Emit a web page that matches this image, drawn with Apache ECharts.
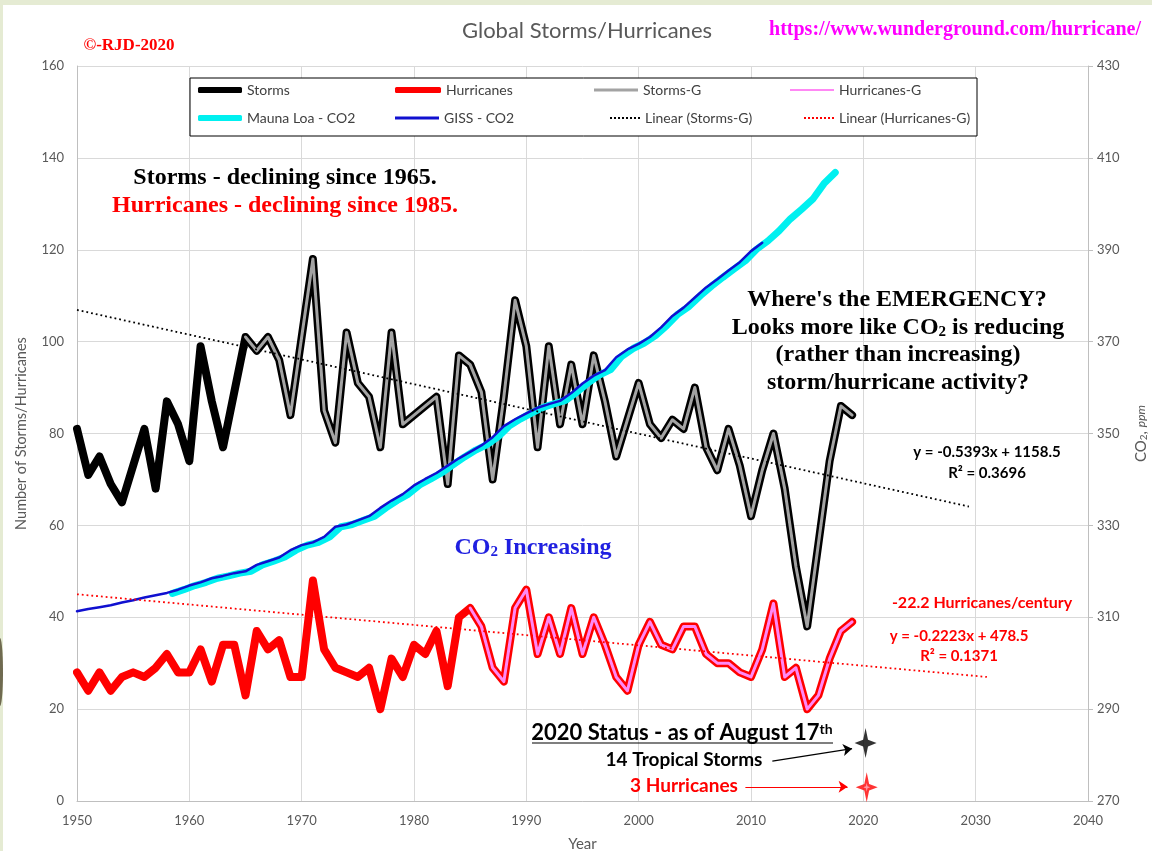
<!DOCTYPE html>
<html lang="en">
<head>
<meta charset="UTF-8">
<title>Global Storms/Hurricanes</title>
<script src="https://cdn.jsdelivr.net/npm/echarts@6/dist/echarts.min.js"></script>
<style>
  html, body { margin: 0; padding: 0; background: #fff; }
  #main { width: 1152px; height: 851px; }
</style>
</head>
<body>
<div id="main"></div>
<script>
// yearly counts, 1950 - 2019
var firstYear = 1950;
var storms = [81, 71, 75, 69, 65, 73, 81, 68, 87, 82,
              74, 99, 87, 77, 89, 101, 98, 101, 96, 84,
              101, 118, 85, 78, 102, 91, 88, 77, 102, 82,
              84, 86, 88, 69, 97, 95, 89, 70, 88, 109,
              99, 77, 99, 82, 95, 82, 97, 87, 75, 83,
              91, 82, 79, 83, 81, 90, 77, 72, 81, 73,
              62, 72, 80, 68, 51, 38, 56, 74, 86, 84];
var hurricanes = [28, 24, 28, 24, 27, 28, 27, 29, 32, 28,
                  28, 33, 26, 34, 34, 23, 37, 33, 35, 27,
                  27, 48, 33, 29, 28, 27, 29, 20, 31, 27,
                  34, 32, 37, 25, 40, 42, 38, 29, 26, 42,
                  46, 32, 40, 32, 42, 32, 40, 34, 27, 24,
                  34, 39, 34, 33, 38, 38, 32, 30, 30, 28,
                  27, 33, 43, 27, 29, 20, 23, 31, 37, 39];
var stormsGStart = 1965;
var hurricanesGStart = 1985;

// CO2, ppm
var gissStart = 1950;
var gissCO2 = [311.3, 311.8, 312.2, 312.6, 313.2, 313.7, 314.3, 314.8, 315.3, 316.0,
               316.9, 317.6, 318.5, 319.0, 319.6, 320.0, 321.4, 322.2, 323.0, 324.6,
               325.7, 326.3, 327.5, 329.7, 330.2, 331.1, 332.0, 333.8, 335.4, 336.8,
               338.7, 340.1, 341.4, 343.0, 344.6, 346.0, 347.4, 349.2, 351.6, 353.1,
               354.4, 355.6, 356.4, 357.1, 358.8, 360.9, 362.6, 363.8, 366.6, 368.3,
               369.5, 371.0, 373.1, 375.6, 377.4, 379.6, 381.8, 383.6, 385.5, 387.3,
               389.7, 391.5];
var mloStart = 1958.5;
var mloCO2 = [315.2, 316.0, 316.9, 317.6, 318.5, 319.0, 319.6, 320.0, 321.4, 322.2,
              323.1, 324.6, 325.7, 326.3, 327.5, 329.7, 330.2, 331.1, 332.0, 333.8,
              335.4, 336.8, 338.8, 340.1, 341.5, 343.2, 344.9, 346.4, 347.6, 349.3,
              351.7, 353.2, 354.5, 355.7, 356.5, 357.2, 359.0, 361.0, 362.7, 363.9,
              366.8, 368.5, 369.7, 371.3, 373.5, 376.0, 377.7, 380.0, 382.1, 384.0,
              385.8, 387.6, 390.1, 391.9, 394.1, 396.7, 398.8, 401.0, 404.4, 406.8];

// trend lines (end points)
var stormsTrend = [[1950, 106.9], [2029.4, 64.1]];
var hurricanesTrend = [[1950, 45.0], [2031, 27.0]];

// 2020 status markers and arrows
var status2020Storms = [[2020.2, 12.6]];
var status2020Hurricanes = [[2020.3, 3.0]];
var stormArrow = [[2011.9, 8.7], [2019.0, 11.4]];
var hurricaneArrow = [[2009.5, 3.1], [2018.6, 3.1]];

function pairs(start, values) {
    return values.map(function (v, i) { return [start + i, v]; });
}

var sans = 'Lato';
var serif = '"Liberation Serif"';
var grey = '#595959';
var star = 'path://M10,0 L12.2,7.8 L20,10 L12.2,12.2 L10,20 L7.8,12.2 L0,10 L7.8,7.8 Z';
var dots = 'path://M0,0h1v1h-1z M2,0h1v1h-1z M4,0h1v1h-1z M6,0h1v1h-1z M8,0h1v1h-1z M10,0h1v1h-1z M12,0h1v1h-1z M14,0h1v1h-1z';

function lineSeries(name, data, color, width, extra) {
    var s = {
        name: name,
        type: 'line',
        data: data,
        symbol: 'none',
        color: color,
        itemStyle: {color: color},
        lineStyle: {color: color, width: width, join: 'round', cap: 'round'},
        emphasis: {disabled: true},
        silent: true
    };
    for (var k in extra) s[k] = extra[k];
    return s;
}

function trendSeries(name, data, color) {
    var s = lineSeries(name, data, color, 1.8);
    s.lineStyle.type = [1.8, 3];
    s.lineStyle.cap = 'butt';
    return s;
}

function legendItem(name, left, top, w, h, icon) {
    return {
        data: [name],
        left: left,
        top: top,
        padding: 0,
        itemWidth: w,
        itemHeight: h,
        itemGap: 0,
        icon: icon,
        selectedMode: false,
        z: 6,
        textStyle: {color: '#404040', fontSize: 14, fontFamily: sans}
    };
}

function label(x, y, text, font, fill, extra) {
    var st = {text: text, font: font, fill: fill, align: 'center', verticalAlign: 'middle'};
    for (var k in extra) st[k] = extra[k];
    return {type: 'text', x: x, y: y, z: 10, style: st};
}

var myChart = echarts.init(document.getElementById('main'));

myChart.setOption({
    animation: false,
    backgroundColor: '#fff',
    grid: {left: 77, right: 64, top: 66, bottom: 50, outerBoundsMode: 'none', containLabel: false},
    legend: [
        legendItem('Storms', 198, 83, 44, 6, 'roundRect'),
        legendItem('Hurricanes', 395, 83, 46, 6, 'roundRect'),
        legendItem('Storms-G', 594, 83, 44, 3, 'rect'),
        legendItem('Hurricanes-G', 790, 83, 44, 2, 'rect'),
        legendItem('Mauna Loa - CO2', 198, 111, 44, 6, 'roundRect'),
        legendItem('GISS - CO2', 395, 111, 44, 3, 'rect'),
        legendItem('Linear (Storms-G)', 610, 111, 30, 2, dots),
        legendItem('Linear (Hurricanes-G)', 804, 111, 30, 2, dots)
    ],
    xAxis: {
        type: 'value',
        min: 1950,
        max: 2040,
        interval: 10,
        name: 'Year',
        nameLocation: 'middle',
        nameGap: 36,
        nameTextStyle: {color: grey, fontSize: 15, fontFamily: sans},
        axisLine: {show: true, lineStyle: {color: '#bfbfbf'}},
        axisTick: {show: false},
        splitLine: {show: true, lineStyle: {color: '#d9d9d9'}},
        axisLabel: {color: grey, fontSize: 13, fontFamily: sans, margin: 13,
            formatter: function (v) { return String(v); }}
    },
    yAxis: [{
        type: 'value',
        min: 0,
        max: 160,
        interval: 20,
        name: 'Number of Storms/Hurricanes',
        nameLocation: 'middle',
        nameRotate: 90,
        nameGap: 48,
        nameTextStyle: {color: grey, fontSize: 14.5, fontFamily: sans},
        axisLine: {show: true, lineStyle: {color: '#bfbfbf'}},
        axisTick: {show: false},
        splitLine: {show: true, lineStyle: {color: '#d9d9d9'}},
        axisLabel: {color: grey, fontSize: 13, fontFamily: sans, margin: 13}
    }, {
        type: 'value',
        position: 'right',
        min: 270,
        max: 430,
        interval: 20,
        name: '{a|CO}{s|2}{a|, }{i|ppm}',
        nameLocation: 'middle',
        nameRotate: 90,
        nameGap: 46,
        nameTextStyle: {
            color: grey,
            rich: {
                a: {color: grey, fontSize: 15, fontFamily: sans},
                s: {color: grey, fontSize: 10, fontFamily: sans, verticalAlign: 'bottom'},
                i: {color: grey, fontSize: 12, fontFamily: sans, fontStyle: 'italic'}
            }
        },
        axisLine: {show: true, lineStyle: {color: '#bfbfbf'}},
        axisTick: {show: true, length: 5, lineStyle: {color: '#bfbfbf'}},
        splitLine: {show: false},
        axisLabel: {color: grey, fontSize: 13, fontFamily: sans, margin: 9}
    }],
    series: [
        lineSeries('Storms', pairs(firstYear, storms), '#000000', 8),
        lineSeries('Hurricanes', pairs(firstYear, hurricanes), '#ff0000', 8),
        lineSeries('Storms-G', pairs(stormsGStart, storms.slice(stormsGStart - firstYear)), '#a3a3a3', 3),
        lineSeries('Hurricanes-G', pairs(hurricanesGStart, hurricanes.slice(hurricanesGStart - firstYear)), '#ff88f4', 3),
        lineSeries('Mauna Loa - CO2', pairs(mloStart, mloCO2), '#00f0f0', 7, {yAxisIndex: 1}),
        lineSeries('GISS - CO2', pairs(gissStart, gissCO2), '#1010d0', 2.5, {yAxisIndex: 1}),
        trendSeries('Linear (Storms-G)', stormsTrend, '#000000'),
        trendSeries('Linear (Hurricanes-G)', hurricanesTrend, '#ff0000'),
        {
            name: 'status-storms',
            type: 'scatter',
            data: status2020Storms,
            symbol: star,
            symbolSize: [22, 30],
            itemStyle: {color: '#000'},
            silent: true,
            z: 5,
            markLine: {
                silent: true,
                symbol: ['none', 'arrow'],
                symbolSize: 9,
                label: {show: false},
                lineStyle: {color: '#000', width: 1.2, type: 'solid'},
                data: [[{coord: stormArrow[0]}, {coord: stormArrow[1]}]]
            }
        },
        {
            name: 'status-hurricanes',
            type: 'scatter',
            data: status2020Hurricanes,
            symbol: star,
            symbolSize: [22, 30],
            itemStyle: {color: '#ff0000'},
            silent: true,
            z: 5,
            markLine: {
                silent: true,
                symbol: ['none', 'arrow'],
                symbolSize: 9,
                label: {show: false},
                lineStyle: {color: '#ff0000', width: 1.2, type: 'solid'},
                data: [[{coord: hurricaneArrow[0]}, {coord: hurricaneArrow[1]}]]
            }
        },
        {
            name: 'status-hurricanes-core',
            type: 'scatter',
            data: status2020Hurricanes,
            symbol: star,
            symbolSize: [7, 9],
            itemStyle: {color: '#ffb0c0'},
            silent: true,
            z: 6
        }
    ],
    graphic: {
        elements: [
            // slide frame
            {type: 'rect', shape: {x: 0, y: 0, width: 1152, height: 5}, style: {fill: '#e5ebd3'}, z: 0, silent: true},
            {type: 'rect', shape: {x: 0, y: 0, width: 3, height: 851}, style: {fill: '#e5ebd3'}, z: 0, silent: true},
            {type: 'ellipse', shape: {cx: 0, cy: 672, rx: 3, ry: 34}, style: {fill: '#6f6a50'}, z: 0, silent: true},
            // legend box
            {type: 'rect', shape: {x: 190, y: 78, width: 787, height: 58},
                style: {fill: '#fff', stroke: '#000', lineWidth: 1}, z: 5, silent: true},
            // titles
            label(587, 31, 'Global Storms/Hurricanes', '22px ' + sans, grey),
            label(955, 30, 'https://www.wunderground.com/hurricane/', 'bold 20px ' + serif, '#ff00ff'),
            label(129, 46, '©-RJD-2020', 'bold 17px ' + serif, '#ff0000'),
            // comments
            label(285, 178, 'Storms - declining since 1965.', 'bold 24px ' + serif, '#000'),
            label(285, 206, 'Hurricanes - declining since 1985.', 'bold 24px ' + serif, '#ff0000'),
            label(897, 300, "Where's the EMERGENCY?", 'bold 24px ' + serif, '#000'),
            label(898, 328, 'Looks more like CO{s|2} is reducing', 'bold 24px ' + serif, '#000', {
                rich: {s: {fontSize: 15, fontWeight: 'bold', fontFamily: serif, verticalAlign: 'bottom'}}
            }),
            label(898, 355, '(rather than increasing)', 'bold 24px ' + serif, '#000'),
            label(898, 383, 'storm/hurricane activity?', 'bold 24px ' + serif, '#000'),
            label(533, 548, 'CO{s|2} Increasing', 'bold 24px ' + serif, '#1f1fe0', {
                rich: {s: {fontSize: 15, fontWeight: 'bold', fontFamily: serif, verticalAlign: 'bottom'}}
            }),
            // fit labels
            label(987, 452, 'y = -0.5393x + 1158.5', 'bold 15px ' + sans, '#000'),
            label(987, 473, 'R² = 0.3696', 'bold 15px ' + sans, '#000'),
            label(982, 603, '-22.2 Hurricanes/century', 'bold 16px ' + sans, '#ff0000'),
            label(959, 636, 'y = -0.2223x + 478.5', 'bold 15px ' + sans, '#ff0000'),
            label(959, 656, 'R² = 0.1371', 'bold 15px ' + sans, '#ff0000'),
            // 2020 status
            label(682, 733, '2020 Status - as of August 17{t|th}', 'bold 22px ' + sans, '#000', {
                rich: {t: {fontSize: 14, fontWeight: 'bold', fontFamily: sans, verticalAlign: 'top'}}
            }),
            {type: 'line', shape: {x1: 532, y1: 743, x2: 833, y2: 743}, style: {stroke: '#000', lineWidth: 1.2}, z: 10, silent: true},
            label(684, 760, '14 Tropical Storms', 'bold 19px ' + sans, '#000'),
            label(684, 786, '3 Hurricanes', 'bold 19px ' + sans, '#ff0000')
        ]
    }
});
</script>
</body>
</html>
